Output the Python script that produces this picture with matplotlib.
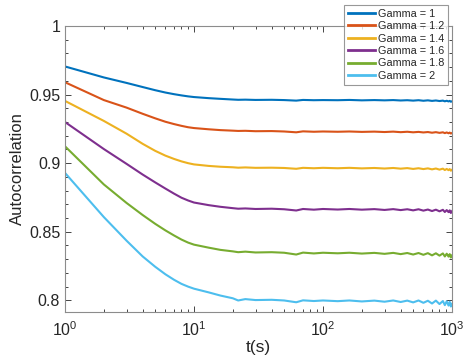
import matplotlib
matplotlib.use('Agg')
import matplotlib.pyplot as plt
from matplotlib.ticker import LogLocator, MultipleLocator, NullFormatter

plt.rcParams['font.family'] = ['Liberation Sans', 'DejaVu Sans']
plt.rcParams['mathtext.fontset'] = 'custom'
plt.rcParams['mathtext.rm'] = 'Liberation Sans'
plt.rcParams['mathtext.it'] = 'Liberation Sans:italic'

# time samples (s)
t = [1, 2, 3, 4, 5, 6, 7, 8, 9, 10, 13, 16, 20, 22, 25, 30, 40, 50, 62, 70, 85,
     100, 130, 160, 200, 250, 300, 350, 400, 450, 500, 550, 600, 650, 700, 750,
     800, 850, 880, 910, 940, 960, 980, 1000]

gamma_labels = ['Gamma = 1', 'Gamma = 1.2', 'Gamma = 1.4', 'Gamma = 1.6',
                'Gamma = 1.8', 'Gamma = 2']

g10 = [0.9705, 0.9625, 0.9585, 0.9555, 0.9532, 0.9515, 0.9503, 0.9494, 0.9487, 0.9482,
       0.9474, 0.9469, 0.9464, 0.9462, 0.9463, 0.9461, 0.9462, 0.9460, 0.9456, 0.9461,
       0.9459, 0.9460, 0.9459, 0.9461, 0.9458, 0.9460, 0.9458, 0.9460, 0.9457, 0.9459,
       0.9456, 0.9459, 0.9455, 0.9458, 0.9454, 0.9457, 0.9453, 0.9456, 0.9451, 0.9455,
       0.9450, 0.9454, 0.9448, 0.9451]
g12 = [0.9590, 0.9460, 0.9405, 0.9360, 0.9327, 0.9302, 0.9285, 0.9272, 0.9262, 0.9256,
       0.9247, 0.9241, 0.9237, 0.9235, 0.9236, 0.9233, 0.9234, 0.9231, 0.9225, 0.9232,
       0.9229, 0.9231, 0.9229, 0.9231, 0.9228, 0.9230, 0.9227, 0.9230, 0.9226, 0.9229,
       0.9225, 0.9228, 0.9224, 0.9227, 0.9222, 0.9226, 0.9221, 0.9225, 0.9219, 0.9224,
       0.9218, 0.9223, 0.9216, 0.9220]
g14 = [0.9454, 0.9308, 0.9215, 0.9141, 0.9090, 0.9055, 0.9031, 0.9013, 0.9000, 0.8991,
       0.8980, 0.8974, 0.8970, 0.8967, 0.8969, 0.8966, 0.8967, 0.8965, 0.8959, 0.8966,
       0.8963, 0.8966, 0.8963, 0.8966, 0.8962, 0.8965, 0.8961, 0.8965, 0.8960, 0.8964,
       0.8958, 0.8963, 0.8957, 0.8962, 0.8955, 0.8961, 0.8953, 0.8960, 0.8950, 0.8958,
       0.8949, 0.8957, 0.8945, 0.8952]
g16 = [0.9300, 0.9103, 0.8995, 0.8917, 0.8860, 0.8815, 0.8778, 0.8748, 0.8728, 0.8713,
       0.8694, 0.8682, 0.8672, 0.8668, 0.8670, 0.8666, 0.8668, 0.8664, 0.8655, 0.8666,
       0.8661, 0.8666, 0.8662, 0.8666, 0.8661, 0.8665, 0.8659, 0.8665, 0.8658, 0.8664,
       0.8656, 0.8664, 0.8654, 0.8662, 0.8651, 0.8661, 0.8649, 0.8660, 0.8644, 0.8658,
       0.8643, 0.8656, 0.8637, 0.8650]
g18 = [0.9123, 0.8845, 0.8710, 0.8622, 0.8558, 0.8510, 0.8473, 0.8443, 0.8421, 0.8406,
       0.8384, 0.8368, 0.8357, 0.8351, 0.8355, 0.8349, 0.8351, 0.8347, 0.8334, 0.8348,
       0.8342, 0.8347, 0.8343, 0.8347, 0.8341, 0.8346, 0.8339, 0.8346, 0.8337, 0.8345,
       0.8334, 0.8345, 0.8332, 0.8344, 0.8328, 0.8343, 0.8326, 0.8342, 0.8320, 0.8340,
       0.8319, 0.8337, 0.8312, 0.8328]
g20 = [0.8929, 0.8607, 0.8435, 0.8320, 0.8245, 0.8190, 0.8150, 0.8120, 0.8100, 0.8085,
       0.8058, 0.8035, 0.8015, 0.7999, 0.8009, 0.8002, 0.8004, 0.7999, 0.7986, 0.8000,
       0.7995, 0.7999, 0.7994, 0.7999, 0.7992, 0.7998, 0.7990, 0.7999, 0.7988, 0.7998,
       0.7985, 0.7999, 0.7982, 0.7997, 0.7977, 0.7998, 0.7973, 0.7995, 0.7965, 0.7993,
       0.7962, 0.7990, 0.7955, 0.7975]

series = [g10, g12, g14, g16, g18, g20]
colors = ['#0072BD', '#D95319', '#EDB120', '#7E2F8E', '#77AC30', '#4DBEEE']

yticks = [0.8, 0.85, 0.9, 0.95, 1.0]
ytick_labels = ['0.8', '0.85', '0.9', '0.95', '1']

dark = '#262626'

fig = plt.figure(figsize=(4.65, 3.63), dpi=100)
ax = fig.add_axes([65 / 465, 1 - 312 / 363, 387 / 465, 286 / 363])

for y, c, lab in zip(series, colors, gamma_labels):
    ax.plot(t, y, color=c, lw=1.5, label=lab)

ax.set_xscale('log')
ax.set_xlim(1, 1000)
ax.set_ylim(0.7915, 1.0)
ax.xaxis.set_minor_locator(LogLocator(base=10, subs=range(2, 10)))
ax.xaxis.set_minor_formatter(NullFormatter())
ax.set_yticks(yticks)
ax.set_yticklabels(ytick_labels)
ax.yaxis.set_minor_locator(MultipleLocator(0.01))

ax.tick_params(which='both', direction='in', top=True, right=True,
               colors=dark, labelsize=11.5, width=0.6)
ax.tick_params(which='major', length=4)
ax.tick_params(which='minor', length=2.2)
ax.tick_params(axis='x', pad=6)
for s in ax.spines.values():
    s.set_color('#8c8c8c')
    s.set_linewidth(0.8)

ax.set_xlabel('t(s)', fontsize=12.5, color=dark, labelpad=1)
ax.set_ylabel('Autocorrelation', fontsize=12, color=dark, labelpad=3)

leg = fig.legend(loc='upper right', bbox_to_anchor=(448 / 465, 1 - 5 / 363),
                 fontsize=7.8, frameon=True, fancybox=False, handlelength=2.5,
                 handletextpad=0.3, labelspacing=0.22, borderpad=0.35,
                 borderaxespad=0)
leg.get_frame().set_edgecolor('#7f7f7f')
leg.get_frame().set_linewidth(0.8)
for txt in leg.get_texts():
    txt.set_color(dark)
for h in leg.get_lines():
    h.set_linewidth(2)

fig.savefig('out.png', dpi=100)
